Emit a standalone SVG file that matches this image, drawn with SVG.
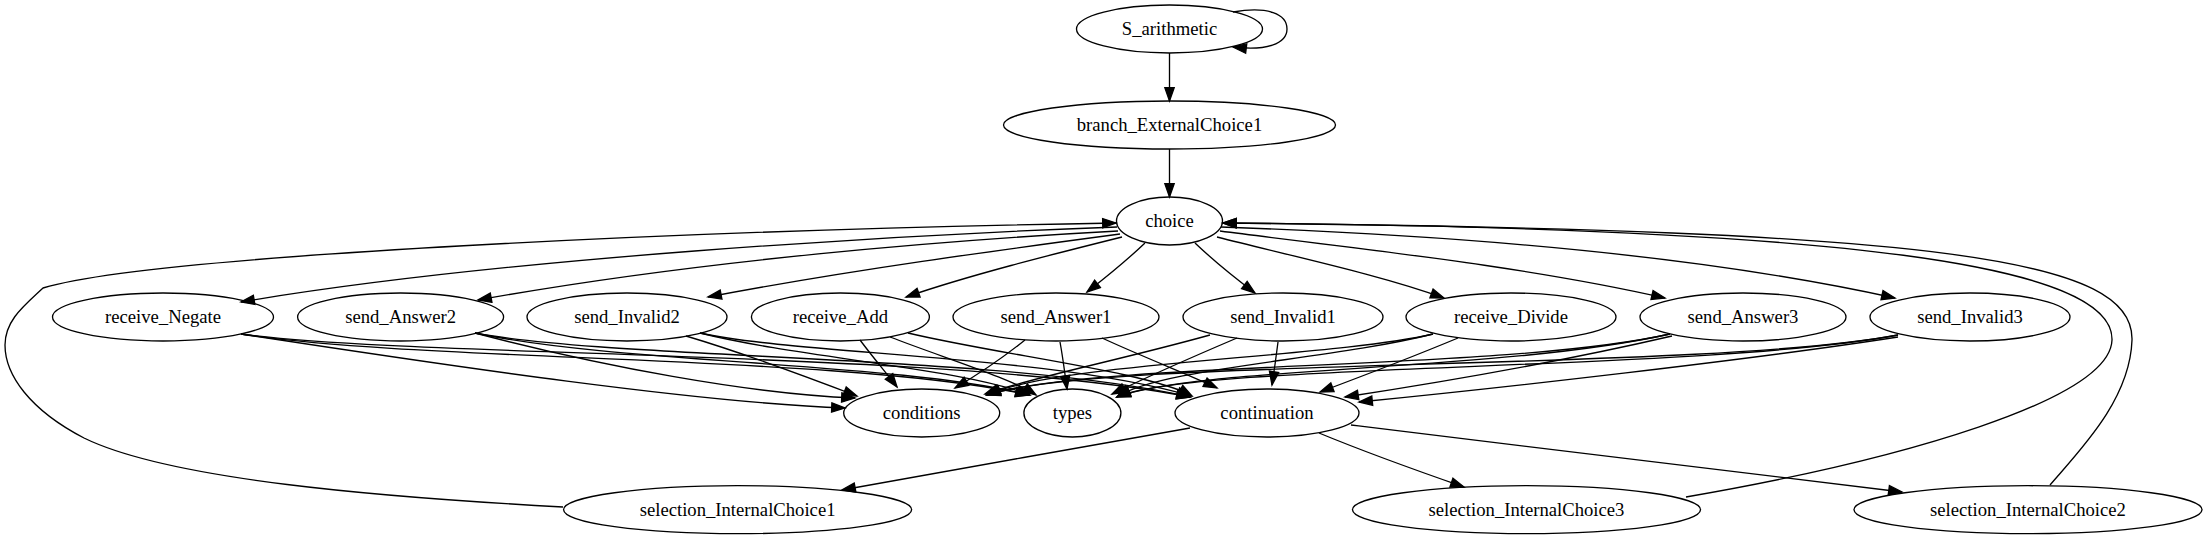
<svg xmlns="http://www.w3.org/2000/svg" width="2208" height="539" viewBox="0 0 2208 539">
<style>
.n ellipse{fill:none;stroke:#000;stroke-width:1.33}
.n text{font-family:"Liberation Serif","Times New Roman",serif;font-size:18.67px;text-anchor:middle;fill:#000}
#edges path{fill:none;stroke:#000;stroke-width:1.33;marker-end:url(#ah)}
</style>
<defs>
<marker id="ah" markerUnits="userSpaceOnUse" markerWidth="15" markerHeight="11" refX="13.3" refY="4.67" orient="auto" overflow="visible">
<path d="M0,0 L13.3,4.67 L0,9.33 Z" fill="#000" stroke="#000" stroke-width="1.33"/>
</marker>
</defs>
<rect width="2208" height="539" fill="#fff"/>
<g id="edges">
<path d="M1233,12 C1268,6 1287,14 1287,29 C1287,44 1266,51 1233,47"/>
<path d="M1169.5,53 L1169.5,101"/>
<path d="M1169.5,149 L1169.5,197"/>
<path d="M1117,227 C900,235 500,258 241,302"/>
<path d="M1118,231 C950,240 700,260 478,300"/>
<path d="M1120,234 C1000,250 850,270 708,297"/>
<path d="M1122,237 C1050,255 970,275 906,297"/>
<path d="M1145,243 C1125,262 1105,278 1087,292"/>
<path d="M1195,243 C1215,262 1235,278 1255,293"/>
<path d="M1217,237 C1300,258 1380,275 1444,298"/>
<path d="M1220,231 C1350,248 1520,265 1665,298"/>
<path d="M1221,227 C1450,235 1700,255 1895,298"/>
<path d="M241,334 C450,366 700,403 845,408"/>
<path d="M241,334 C420,362 850,355 1029,395"/>
<path d="M241,334 C420,358 950,350 1190,397"/>
<path d="M475,333 C600,366 750,394 855,398"/>
<path d="M475,333 C620,364 900,362 1029,395"/>
<path d="M475,333 C620,360 1000,354 1190,397"/>
<path d="M686,336 C740,352 810,378 857,396"/>
<path d="M700,333 C800,358 960,368 1030,395"/>
<path d="M700,333 C800,355 1050,355 1191,396"/>
<path d="M860,340 C875,360 888,375 897,387"/>
<path d="M890,337 C950,360 1010,378 1036,395"/>
<path d="M908,333 C1000,355 1150,372 1192,396"/>
<path d="M1025,340 C1000,360 972,378 955,388"/>
<path d="M1060,342 C1063,358 1065,375 1067,389"/>
<path d="M1102,338 C1150,360 1190,375 1217,388"/>
<path d="M1210,335 C1120,360 1030,378 985,394"/>
<path d="M1237,338 C1190,358 1145,378 1112,394"/>
<path d="M1278,342 C1276,358 1274,372 1272,385"/>
<path d="M1433,334 C1330,358 1060,362 987,395"/>
<path d="M1433,334 C1330,360 1160,368 1117,397"/>
<path d="M1458,338 C1410,358 1360,377 1320,392"/>
<path d="M1670,334 C1500,372 1100,360 987,395"/>
<path d="M1670,334 C1500,372 1200,366 1117,397"/>
<path d="M1672,336 C1560,362 1430,384 1345,397"/>
<path d="M1898,335 C1700,372 1100,357 987,395"/>
<path d="M1898,335 C1700,372 1200,362 1117,397"/>
<path d="M1898,337 C1750,360 1500,388 1359,402"/>
<path d="M1190,428 C1080,448 950,470 842,490"/>
<path d="M1319,433 C1365,452 1415,470 1464,487"/>
<path d="M1351,425 C1550,450 1750,472 1902,492"/>
<path d="M563,507 C380,497 170,480 84,438 C30,410 5,375 5,345 C5,320 25,305 43,288 C150,255 700,230 1116,223"/>
<path d="M1686,497 C1900,460 2110,400 2112,340 C2114,265 1850,228 1223,223"/>
<path d="M2050,485 C2080,450 2130,400 2132,340 C2134,260 1950,230 1223,223"/>
</g>
<g id="S_arithmetic" class="n"><ellipse cx="1169.5" cy="29" rx="93" ry="24"/><text x="1169.5" y="35">S_arithmetic</text></g>
<g id="branch_ExternalChoice1" class="n"><ellipse cx="1169.5" cy="125" rx="166" ry="24"/><text x="1169.5" y="131">branch_ExternalChoice1</text></g>
<g id="choice" class="n"><ellipse cx="1169.5" cy="221" rx="53" ry="24"/><text x="1169.5" y="227">choice</text></g>
<g id="receive_Negate" class="n"><ellipse cx="163" cy="317" rx="110.5" ry="24"/><text x="163" y="323">receive_Negate</text></g>
<g id="send_Answer2" class="n"><ellipse cx="400.6" cy="317" rx="103" ry="24"/><text x="400.6" y="323">send_Answer2</text></g>
<g id="send_Invalid2" class="n"><ellipse cx="627" cy="317" rx="100" ry="24"/><text x="627" y="323">send_Invalid2</text></g>
<g id="receive_Add" class="n"><ellipse cx="840.4" cy="317" rx="89" ry="24"/><text x="840.4" y="323">receive_Add</text></g>
<g id="send_Answer1" class="n"><ellipse cx="1056" cy="317" rx="103" ry="24"/><text x="1056" y="323">send_Answer1</text></g>
<g id="send_Invalid1" class="n"><ellipse cx="1283" cy="317" rx="100" ry="24"/><text x="1283" y="323">send_Invalid1</text></g>
<g id="receive_Divide" class="n"><ellipse cx="1511" cy="317" rx="105" ry="24"/><text x="1511" y="323">receive_Divide</text></g>
<g id="send_Answer3" class="n"><ellipse cx="1743" cy="317" rx="103" ry="24"/><text x="1743" y="323">send_Answer3</text></g>
<g id="send_Invalid3" class="n"><ellipse cx="1970" cy="317" rx="100" ry="24"/><text x="1970" y="323">send_Invalid3</text></g>
<g id="conditions" class="n"><ellipse cx="921.7" cy="413" rx="78" ry="24"/><text x="921.7" y="419">conditions</text></g>
<g id="types" class="n"><ellipse cx="1072.4" cy="413" rx="48.5" ry="24"/><text x="1072.4" y="419">types</text></g>
<g id="continuation" class="n"><ellipse cx="1267" cy="413" rx="92" ry="24"/><text x="1267" y="419">continuation</text></g>
<g id="selection_InternalChoice1" class="n"><ellipse cx="737.6" cy="509.7" rx="174" ry="24"/><text x="737.6" y="515.7">selection_InternalChoice1</text></g>
<g id="selection_InternalChoice3" class="n"><ellipse cx="1526.5" cy="509.7" rx="174" ry="24"/><text x="1526.5" y="515.7">selection_InternalChoice3</text></g>
<g id="selection_InternalChoice2" class="n"><ellipse cx="2028" cy="509.7" rx="174" ry="24"/><text x="2028" y="515.7">selection_InternalChoice2</text></g>
</svg>
